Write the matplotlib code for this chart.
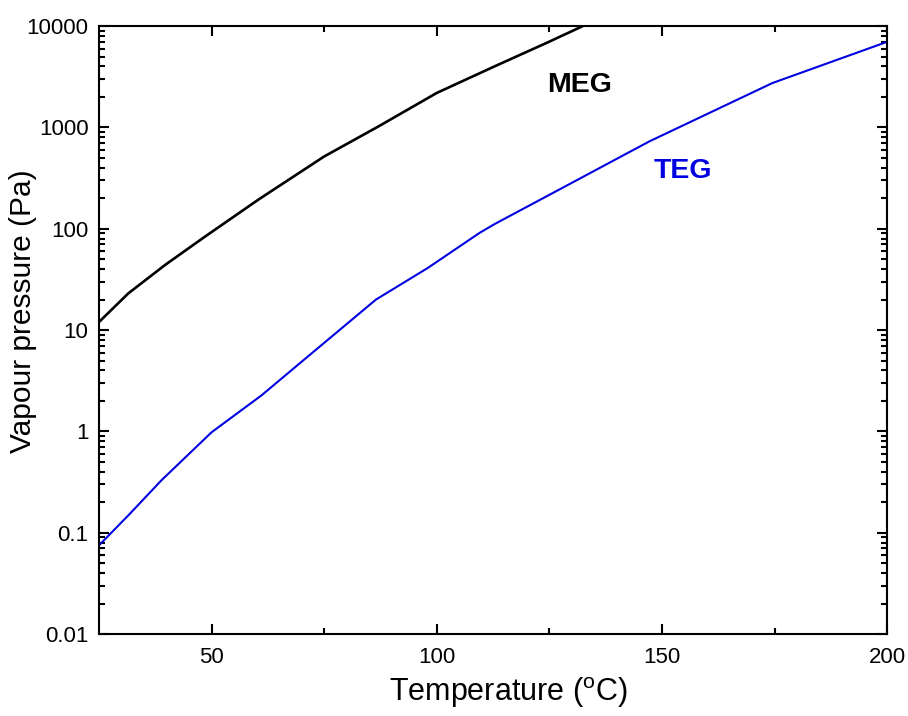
import matplotlib
matplotlib.use('Agg')
import matplotlib.pyplot as plt
from matplotlib.ticker import FixedLocator, LogLocator, FuncFormatter, NullFormatter

plt.rcParams['font.family'] = ['Liberation Sans', 'DejaVu Sans']
plt.rcParams['mathtext.fontset'] = 'custom'
plt.rcParams['mathtext.rm'] = 'Liberation Sans'

# values
meg_T = [25, 31.5, 39.7, 48.6, 60.4, 75, 87, 100, 112.8, 124.6, 132.4]
meg_P = [12, 23, 44, 84, 194, 517, 1020, 2190, 4000, 6900, 10000]

teg_T = [25, 31.5, 38.9, 50, 61.1, 73, 86.5, 98, 109.5, 112.8, 124.3, 147.2, 174.5, 200]
teg_P = [0.075, 0.148, 0.33, 0.98, 2.27, 6.3, 20, 41, 91, 111, 208, 728, 2740, 7000]

x_ticks = [50, 100, 150, 200]
y_ticks = [0.01, 0.1, 1, 10, 100, 1000, 10000]

fig = plt.figure(figsize=(9.08, 7.16), dpi=100)
ax = fig.add_axes([0.109, 0.1145, 0.868, 0.849])

ax.plot(meg_T, meg_P, color='black', lw=1.9)
ax.plot(teg_T, teg_P, color='#0000e0', lw=1.5)

ax.set_yscale('log')
ax.set_xlim(25, 200)
ax.set_ylim(0.01, 10000)

ax.xaxis.set_major_locator(FixedLocator(x_ticks))
ax.xaxis.set_minor_locator(FixedLocator([75, 125, 175]))
ax.yaxis.set_major_locator(FixedLocator(y_ticks))
ax.yaxis.set_minor_locator(LogLocator(base=10, subs=range(2, 10)))
ax.yaxis.set_major_formatter(FuncFormatter(lambda v, p: '%g' % v))
ax.yaxis.set_minor_formatter(NullFormatter())

ax.tick_params(which='both', direction='in', top=True, right=True, width=1.5, labelsize=16)
ax.tick_params(which='major', length=7)
ax.tick_params(which='minor', length=4)
ax.tick_params(axis='x', which='major', pad=9)
ax.tick_params(axis='y', which='major', pad=7.5)
for s in ax.spines.values():
    s.set_linewidth(1.5)

ax.set_xlabel('Temperature ($^\\mathrm{o}$C)', fontsize=22)
ax.xaxis.set_label_coords(0.52, -0.067)
ax.set_ylabel('Vapour pressure (Pa)', fontsize=21.5)
ax.yaxis.set_label_coords(-0.078, 0.531)

ax.text(131.6, 10 ** 3.42, 'MEG', fontsize=20.5, fontweight='bold', color='black', ha='center', va='center')
ax.text(154.7, 374, 'TEG', fontsize=20.5, fontweight='bold', color='#0000e0', ha='center', va='center')

fig.savefig('out.png', dpi=100)
